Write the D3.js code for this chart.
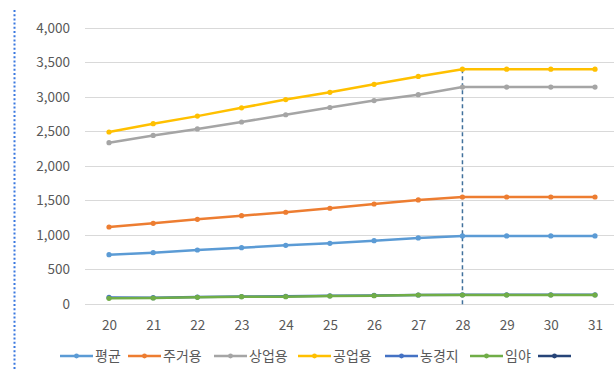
<!DOCTYPE html>
<html>
<head>
<meta charset="utf-8">
<script src="https://cdn.jsdelivr.net/npm/d3@7/dist/d3.min.js"></script>
<style>
  html, body { margin: 0; padding: 0; background: #fff; }
  svg { display: block; }
</style>
</head>
<body>
<svg id="chart" width="614" height="370"></svg>
<script>
// Years (two-digit) on the horizontal axis
const categories = ["20","21","22","23","24","25","26","27","28","29","30","31"];

// Series values
const avgValues        = [714, 743, 782, 815, 850, 879, 917, 956, 985, 985, 985, 985];
const residentialVals  = [1115, 1168, 1226, 1279, 1328, 1386, 1448, 1506, 1549, 1549, 1549, 1549];
const commercialVals   = [2335, 2440, 2535, 2635, 2740, 2845, 2945, 3030, 3140, 3140, 3140, 3140];
const industrialVals   = [2490, 2610, 2720, 2840, 2960, 3065, 3180, 3295, 3400, 3400, 3400, 3400];
const farmlandVals     = [95, 92, 100, 108, 112, 118, 124, 130, 133, 133, 133, 133];
const forestVals       = [82, 87, 97, 106, 106, 116, 120, 130, 130, 130, 130, 130];
const extraVals        = [null, null, null, null, null, null, null, null, null, null, null, null];

const seriesNames  = ["평균", "주거용", "상업용", "공업용", "농경지", "임야", ""];
const seriesColors = ["#5b9bd5", "#ed7d31", "#a5a5a5", "#ffc000", "#4472c4", "#70ad47", "#264478"];
const seriesValues = [avgValues, residentialVals, commercialVals, industrialVals, farmlandVals, forestVals, extraVals];

const yTicks = [0, 500, 1000, 1500, 2000, 2500, 3000, 3500, 4000];
const markerCategory = "28";

const svg = d3.select("#chart");
const font = "'Noto Sans CJK KR', 'Malgun Gothic', sans-serif";

const x = d3.scalePoint().domain(categories).range([109, 595]);
const y = d3.scaleLinear().domain([0, 4000]).range([304, 27.7]);

// Dotted frame marker on the left
svg.append("line")
  .attr("x1", 14.5).attr("x2", 14.5)
  .attr("y1", 10).attr("y2", 370)
  .attr("stroke", "#3a78e0")
  .attr("stroke-width", 2)
  .attr("stroke-dasharray", "2,2.2");

// Gridlines
svg.append("g")
  .selectAll("line")
  .data(yTicks)
  .join("line")
  .attr("x1", 85).attr("x2", 614)
  .attr("y1", d => Math.round(y(d)) + 0.5)
  .attr("y2", d => Math.round(y(d)) + 0.5)
  .attr("stroke", "#d9d9d9")
  .attr("stroke-width", 1);

// Y axis labels
const yAxis = d3.axisLeft(y).tickValues(yTicks).tickFormat(d3.format(",")).tickSize(0).tickPadding(0);
const yg = svg.append("g").attr("transform", "translate(70,0)").call(yAxis);
yg.select(".domain").remove();
yg.selectAll("text")
  .attr("fill", "#595959")
  .style("font-family", font)
  .style("font-size", "13.5px");

// X axis labels
const xAxis = d3.axisBottom(x).tickSize(0).tickPadding(0);
const xg = svg.append("g").attr("transform", "translate(0,320)").call(xAxis);
xg.select(".domain").remove();
xg.selectAll("text")
  .attr("fill", "#595959")
  .style("font-family", font)
  .style("font-size", "13.5px");

// Reference line at year 28
const markerIdx = categories.indexOf(markerCategory);
svg.append("line")
  .attr("x1", x(markerCategory)).attr("x2", x(markerCategory))
  .attr("y1", y(industrialVals[markerIdx])).attr("y2", 307)
  .attr("stroke", "#41719c")
  .attr("stroke-width", 1.5)
  .attr("stroke-dasharray", "4,3");

// Series lines and markers (drawn bottom-up so forest sits on top of farmland)
const line = d3.line()
  .defined(d => d != null)
  .x((d, i) => x(categories[i]))
  .y(d => y(d));

const drawOrder = [4, 5, 0, 1, 2, 3];
drawOrder.forEach(si => {
  const vals = seriesValues[si];
  const g = svg.append("g");
  g.append("path")
    .attr("d", line(vals))
    .attr("fill", "none")
    .attr("stroke", seriesColors[si])
    .attr("stroke-width", 2.5)
    .attr("stroke-linejoin", "round");
  g.selectAll("circle")
    .data(vals.map((v, i) => ({ v, i })).filter(d => d.v != null))
    .join("circle")
    .attr("cx", d => x(categories[d.i]))
    .attr("cy", d => y(d.v))
    .attr("r", 2.6)
    .attr("fill", seriesColors[si]);
});

// Legend
const legendX = [60, 128, 214, 298, 385, 470, 538];
const legendY = 356;
const lg = svg.append("g");
seriesNames.forEach((name, i) => {
  const gx = legendX[i];
  lg.append("line")
    .attr("x1", gx).attr("x2", gx + 33)
    .attr("y1", legendY).attr("y2", legendY)
    .attr("stroke", seriesColors[i])
    .attr("stroke-width", 2.5);
  lg.append("circle")
    .attr("cx", gx + 16.5).attr("cy", legendY).attr("r", 2.4)
    .attr("fill", seriesColors[i]);
  if (name) {
    lg.append("text")
      .attr("x", gx + 35).attr("y", legendY)
      .attr("dy", "0.36em")
      .attr("fill", "#595959")
      .style("font-family", font)
      .style("font-size", "14px")
      .text(name);
  }
});
</script>
</body>
</html>
